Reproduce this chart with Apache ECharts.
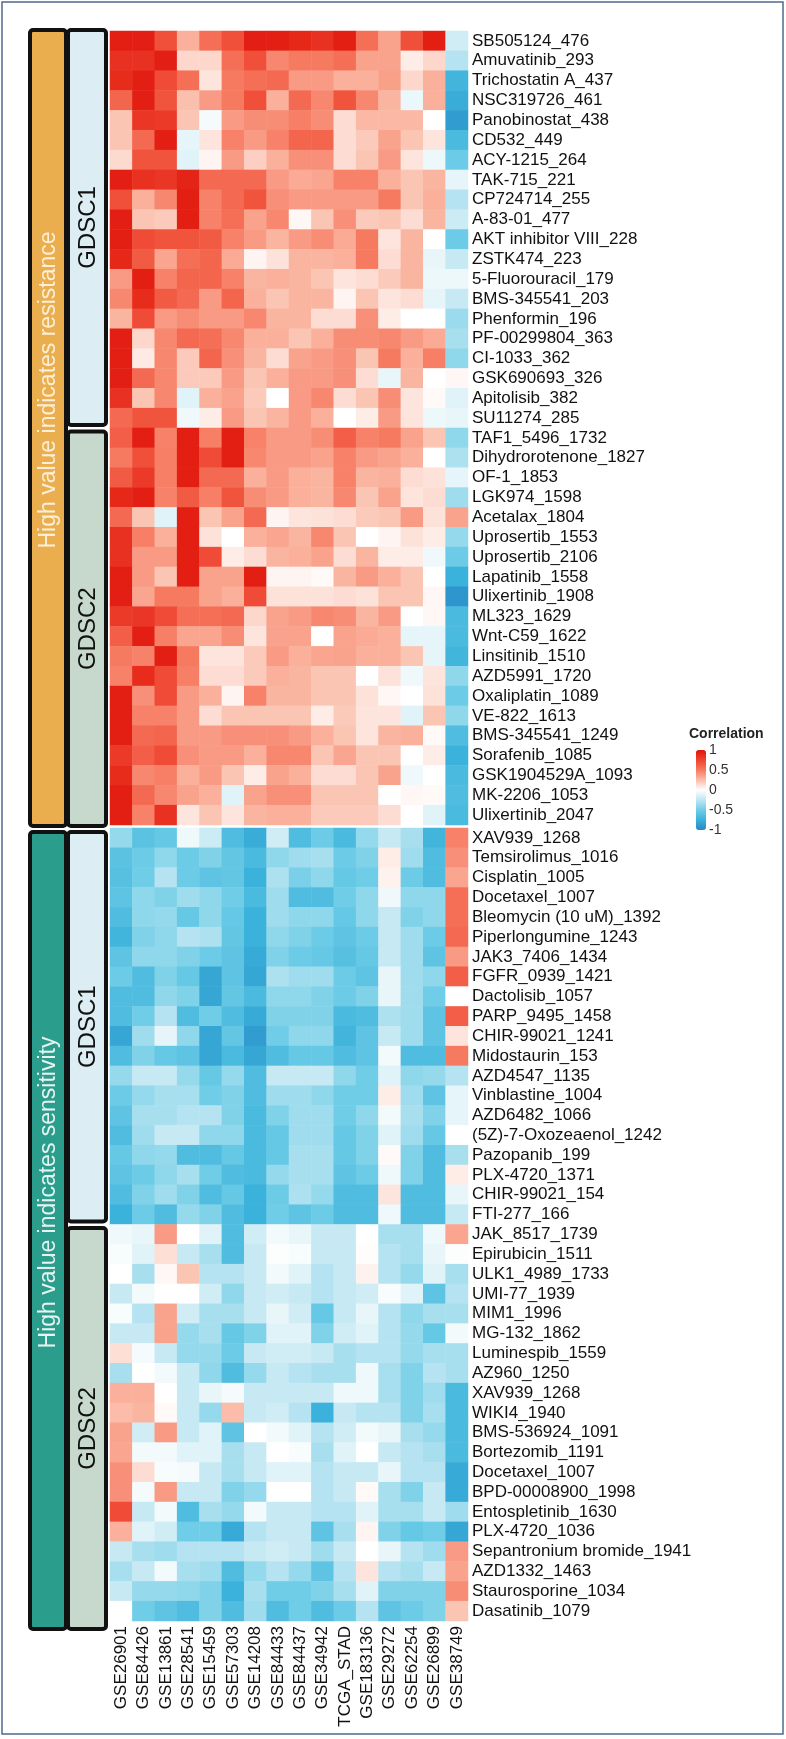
<!DOCTYPE html>
<html>
<head>
<meta charset="utf-8">
<script src="https://cdn.jsdelivr.net/npm/echarts@6.0.0/dist/echarts.min.js"></script>
<style>
  html, body { margin: 0; padding: 0; background: #fff; }
  #chart { width: 786px; height: 1739px; }
</style>
</head>
<body>
<div id="chart"></div>
<script>
// columns (datasets)
const datasets = ["GSE26901", "GSE84426", "GSE13861", "GSE28541", "GSE15459", "GSE57303", "GSE14208", "GSE84433",
  "GSE84437", "GSE34942", "TCGA_STAD", "GSE183136", "GSE29272", "GSE62254", "GSE26899", "GSE38749"];

// high value indicates resistance / GDSC1
const resGdsc1Drugs = ["SB505124_476", "Amuvatinib_293", "Trichostatin A_437", "NSC319726_461", "Panobinostat_438",
  "CD532_449", "ACY-1215_264", "TAK-715_221", "CP724714_255", "A-83-01_477", "AKT inhibitor VIII_228", "ZSTK474_223",
  "5-Fluorouracil_179", "BMS-345541_203", "Phenformin_196", "PF-00299804_363", "CI-1033_362", "GSK690693_326",
  "Apitolisib_382", "SU11274_285"];
const resGdsc1Values = [
  [0.95, 0.95, 0.7, 0.3, 0.55, 0.7, 0.95, 0.95, 0.9, 0.85, 0.95, 0.55, 0.35, 0.7, 0.95, -0.18],
  [0.85, 0.85, 0.95, 0.15, 0.15, 0.55, 0.7, 0.45, 0.5, 0.5, 0.55, 0.35, 0.35, 0.07, 0.15, -0.28],
  [0.88, 0.95, 0.72, 0.55, 0.1, 0.5, 0.55, 0.58, 0.38, 0.38, 0.3, 0.3, 0.36, 0.15, 0.3, -0.72],
  [0.6, 0.95, 0.68, 0.24, 0.38, 0.5, 0.7, 0.3, 0.58, 0.45, 0.68, 0.45, 0.28, -0.08, 0.3, -0.78],
  [0.22, 0.82, 0.8, 0.22, -0.04, 0.38, 0.43, 0.43, 0.48, 0.43, 0.13, 0.27, 0.27, 0.27, 0, -0.88],
  [0.22, 0.58, 0.95, -0.1, 0.1, 0.47, 0.38, 0.47, 0.6, 0.6, 0.13, 0.2, 0.35, 0.22, 0.1, -0.68],
  [0.14, 0.68, 0.68, -0.12, 0.04, 0.38, 0.18, 0.3, 0.42, 0.42, 0.13, 0.22, 0.38, 0.1, -0.07, -0.52],
  [0.95, 0.85, 0.82, 0.92, 0.58, 0.58, 0.58, 0.38, 0.32, 0.34, 0.47, 0.47, 0.3, 0.22, 0.28, -0.1],
  [0.7, 0.3, 0.45, 0.95, 0.47, 0.58, 0.68, 0.42, 0.38, 0.38, 0.38, 0.38, 0.5, 0.22, 0.3, -0.28],
  [0.95, 0.22, 0.2, 0.95, 0.47, 0.55, 0.35, 0.45, 0.03, 0.22, 0.42, 0.2, 0.22, 0.13, 0.28, -0.2],
  [0.95, 0.72, 0.68, 0.68, 0.65, 0.47, 0.38, 0.28, 0.38, 0.43, 0.32, 0.5, 0.1, 0.28, 0, -0.52],
  [0.9, 0.65, 0.34, 0.55, 0.6, 0.32, 0.04, 0.11, 0.28, 0.28, 0.3, 0.5, 0.13, 0.28, -0.09, -0.22],
  [0.38, 0.95, 0.47, 0.6, 0.6, 0.47, 0.28, 0.3, 0.28, 0.22, 0.1, 0.13, 0.2, 0.28, -0.07, -0.07],
  [0.45, 0.88, 0.65, 0.58, 0.38, 0.6, 0.3, 0.22, 0.28, 0.28, 0.04, 0.22, 0.1, 0.13, -0.1, -0.22],
  [0.28, 0.72, 0.38, 0.43, 0.38, 0.38, 0.45, 0.28, 0.28, 0.13, 0.13, 0.42, 0.07, 0, 0, -0.36],
  [0.95, 0.15, 0.45, 0.58, 0.55, 0.45, 0.3, 0.3, 0.22, 0.3, 0.43, 0.43, 0.45, 0.38, 0.32, -0.32],
  [0.95, 0.08, 0.45, 0.2, 0.6, 0.42, 0.28, 0.13, 0.35, 0.38, 0.42, 0.22, 0.5, 0.3, 0.48, -0.4],
  [0.95, 0.58, 0.45, 0.2, 0.2, 0.38, 0.22, 0.3, 0.38, 0.38, 0.42, 0.13, -0.09, 0.28, 0, 0.03],
  [0.85, 0.22, 0.45, -0.12, 0.3, 0.35, 0.2, 0, 0.38, 0.45, 0.13, 0.22, 0.43, 0.1, 0.02, -0.12],
  [0.58, 0.68, 0.68, -0.06, 0.07, 0.38, 0.22, 0.28, 0.38, 0.3, 0, 0.07, 0.38, 0.1, -0.07, -0.09]
];

// high value indicates resistance / GDSC2
const resGdsc2Drugs = ["TAF1_5496_1732", "Dihydrorotenone_1827", "OF-1_1853", "LGK974_1598", "Acetalax_1804",
  "Uprosertib_1553", "Uprosertib_2106", "Lapatinib_1558", "Ulixertinib_1908", "ML323_1629", "Wnt-C59_1622",
  "Linsitinib_1510", "AZD5991_1720", "Oxaliplatin_1089", "VE-822_1613", "BMS-345541_1249", "Sorafenib_1085",
  "GSK1904529A_1093", "MK-2206_1053", "Ulixertinib_2047"];
const resGdsc2Values = [
  [0.63, 0.95, 0.47, 0.95, 0.48, 0.95, 0.47, 0.38, 0.38, 0.43, 0.63, 0.47, 0.5, 0.35, 0.22, -0.4],
  [0.5, 0.7, 0.48, 0.95, 0.72, 0.95, 0.45, 0.38, 0.38, 0.35, 0.47, 0.38, 0.35, 0.3, 0, -0.3],
  [0.65, 0.8, 0.48, 0.95, 0.58, 0.58, 0.3, 0.38, 0.3, 0.28, 0.47, 0.28, 0.3, 0.13, 0.11, -0.1],
  [0.9, 0.95, 0.47, 0.65, 0.48, 0.68, 0.43, 0.38, 0.3, 0.28, 0.45, 0.22, 0.35, 0.1, 0.13, -0.35],
  [0.58, 0.22, -0.12, 0.95, 0.22, 0.35, 0.58, 0.04, 0.1, 0.11, 0.13, 0.2, 0.22, 0.38, 0.11, 0.35],
  [0.85, 0.48, 0.3, 0.95, 0.11, 0, 0.3, 0.34, 0.28, 0.45, 0.22, 0, 0.04, 0.11, 0.07, -0.38],
  [0.85, 0.38, 0.38, 0.95, 0.72, 0.07, 0.13, 0.28, 0.3, 0.35, 0.13, 0.28, 0.07, 0.07, -0.06, -0.52],
  [0.95, 0.38, 0.22, 0.95, 0.35, 0.35, 0.95, 0.04, 0.04, 0.02, 0.28, 0.38, 0.3, 0.22, 0, -0.75],
  [0.95, 0.34, 0.5, 0.5, 0.35, 0.3, 0.72, 0.11, 0.11, 0.11, 0.13, 0.11, 0.22, 0.22, 0.03, -0.92],
  [0.8, 0.82, 0.72, 0.55, 0.55, 0.58, 0.15, 0.35, 0.38, 0.45, 0.43, 0.28, 0.38, 0, 0.03, -0.68],
  [0.63, 0.95, 0.48, 0.34, 0.34, 0.43, 0.1, 0.35, 0.35, 0, 0.35, 0.32, 0.3, -0.1, -0.1, -0.68],
  [0.5, 0.47, 0.95, 0.5, 0.1, 0.1, 0.2, 0.38, 0.3, 0.34, 0.35, 0.3, 0.3, 0.22, -0.1, -0.72],
  [0.47, 0.88, 0.72, 0.48, 0.13, 0.13, 0.2, 0.3, 0.28, 0.22, 0.22, 0, 0.11, -0.06, 0.1, -0.4],
  [0.95, 0.42, 0.72, 0.38, 0.3, 0.04, 0.47, 0.28, 0.28, 0.22, 0.22, 0.11, 0.03, 0, 0.11, -0.52],
  [0.95, 0.47, 0.47, 0.38, 0.13, 0.22, 0.22, 0.22, 0.22, 0.07, 0.2, 0.1, 0.1, -0.12, 0.22, -0.4],
  [0.95, 0.58, 0.6, 0.38, 0.38, 0.42, 0.42, 0.42, 0.38, 0.3, 0.22, 0.1, 0.28, 0.3, 0.02, -0.65],
  [0.8, 0.63, 0.72, 0.42, 0.38, 0.38, 0.3, 0.45, 0.45, 0.22, 0.34, 0.22, 0.22, 0, 0.07, -0.75],
  [0.88, 0.45, 0.48, 0.3, 0.38, 0.22, 0.07, 0.35, 0.3, 0.13, 0.13, 0.22, 0.35, -0.06, 0, -0.68],
  [0.95, 0.58, 0.45, 0.35, 0.3, -0.12, 0.35, 0.42, 0.42, 0.22, 0.22, 0.22, 0, 0.03, 0.02, -0.65],
  [0.95, 0.47, 0.85, 0.1, 0.22, 0.1, 0.28, 0.3, 0.3, 0.2, 0.2, 0.2, 0.13, 0, -0.12, -0.68]
];

// high value indicates sensitivity / GDSC1
const senGdsc1Drugs = ["XAV939_1268", "Temsirolimus_1016", "Cisplatin_1005", "Docetaxel_1007", "Bleomycin (10 uM)_1392",
  "Piperlongumine_1243", "JAK3_7406_1434", "FGFR_0939_1421", "Dactolisib_1057", "PARP_9495_1458", "CHIR-99021_1241",
  "Midostaurin_153", "AZD4547_1135", "Vinblastine_1004", "AZD6482_1066", "(5Z)-7-Oxozeaenol_1242", "Pazopanib_199",
  "PLX-4720_1371", "CHIR-99021_154", "FTI-277_166"];
const senGdsc1Values = [
  [-0.38, -0.6, -0.55, -0.06, -0.2, -0.65, -0.78, -0.18, -0.65, -0.52, -0.68, -0.38, -0.22, -0.32, -0.72, 0.47],
  [-0.6, -0.52, -0.4, -0.52, -0.45, -0.56, -0.68, -0.4, -0.35, -0.32, -0.52, -0.45, 0.07, -0.35, -0.65, 0.42],
  [-0.62, -0.5, -0.28, -0.52, -0.58, -0.56, -0.75, -0.3, -0.47, -0.4, -0.55, -0.5, 0.05, -0.52, -0.65, 0.34],
  [-0.58, -0.4, -0.45, -0.35, -0.4, -0.5, -0.68, -0.35, -0.65, -0.65, -0.5, -0.4, -0.06, -0.4, -0.4, 0.55],
  [-0.65, -0.4, -0.38, -0.55, -0.4, -0.55, -0.75, -0.35, -0.4, -0.4, -0.55, -0.4, -0.22, -0.45, -0.4, 0.55],
  [-0.72, -0.45, -0.4, -0.28, -0.3, -0.56, -0.75, -0.4, -0.45, -0.52, -0.58, -0.52, -0.22, -0.35, -0.52, 0.58],
  [-0.58, -0.4, -0.4, -0.45, -0.52, -0.58, -0.8, -0.45, -0.52, -0.55, -0.62, -0.55, -0.22, -0.35, -0.58, 0.38],
  [-0.52, -0.65, -0.45, -0.55, -0.82, -0.58, -0.82, -0.3, -0.35, -0.35, -0.52, -0.58, -0.09, -0.35, -0.4, 0.63],
  [-0.65, -0.65, -0.4, -0.45, -0.82, -0.56, -0.68, -0.4, -0.4, -0.45, -0.52, -0.45, -0.09, -0.35, -0.5, 0],
  [-0.65, -0.5, -0.28, -0.65, -0.5, -0.65, -0.8, -0.45, -0.45, -0.45, -0.68, -0.65, -0.3, -0.35, -0.58, 0.63],
  [-0.82, -0.35, -0.1, -0.4, -0.82, -0.56, -0.88, -0.5, -0.4, -0.4, -0.72, -0.58, -0.22, -0.35, -0.58, 0.1],
  [-0.65, -0.45, -0.55, -0.58, -0.82, -0.68, -0.82, -0.65, -0.55, -0.55, -0.65, -0.58, -0.05, -0.65, -0.65, 0.5],
  [-0.38, -0.22, -0.22, -0.38, -0.55, -0.38, -0.65, -0.22, -0.22, -0.22, -0.4, -0.5, -0.12, -0.4, -0.38, -0.28],
  [-0.52, -0.38, -0.32, -0.32, -0.5, -0.45, -0.65, -0.35, -0.35, -0.4, -0.5, -0.5, 0.07, -0.35, -0.58, -0.1],
  [-0.58, -0.32, -0.32, -0.28, -0.28, -0.45, -0.68, -0.45, -0.35, -0.35, -0.5, -0.4, -0.05, -0.32, -0.45, -0.1],
  [-0.65, -0.35, -0.22, -0.22, -0.4, -0.4, -0.68, -0.55, -0.35, -0.35, -0.55, -0.45, -0.12, -0.35, -0.55, 0],
  [-0.55, -0.4, -0.38, -0.65, -0.65, -0.55, -0.68, -0.55, -0.32, -0.32, -0.55, -0.45, 0.02, -0.45, -0.65, -0.32],
  [-0.58, -0.52, -0.4, -0.32, -0.5, -0.65, -0.68, -0.38, -0.32, -0.32, -0.58, -0.52, -0.06, -0.45, -0.65, 0.07],
  [-0.65, -0.45, -0.35, -0.45, -0.65, -0.55, -0.75, -0.52, -0.3, -0.38, -0.65, -0.65, 0.1, -0.65, -0.65, -0.09],
  [-0.75, -0.52, -0.65, -0.38, -0.45, -0.65, -0.75, -0.5, -0.58, -0.52, -0.65, -0.65, -0.06, -0.65, -0.65, -0.22]
];

// high value indicates sensitivity / GDSC2
const senGdsc2Drugs = ["JAK_8517_1739", "Epirubicin_1511", "ULK1_4989_1733", "UMI-77_1939", "MIM1_1996", "MG-132_1862",
  "Luminespib_1559", "AZ960_1250", "XAV939_1268", "WIKI4_1940", "BMS-536924_1091", "Bortezomib_1191", "Docetaxel_1007",
  "BPD-00008900_1998", "Entospletinib_1630", "PLX-4720_1036", "Sepantronium bromide_1941", "AZD1332_1463",
  "Staurosporine_1034", "Dasatinib_1079"];
const senGdsc2Values = [
  [-0.06, -0.09, 0.38, 0, -0.12, -0.65, -0.18, -0.05, -0.09, -0.22, -0.22, 0, -0.32, -0.32, -0.06, 0.34],
  [-0.03, -0.12, 0.12, -0.22, -0.32, -0.65, -0.22, -0.01, -0.03, -0.22, -0.22, 0.01, -0.28, -0.32, -0.09, -0.01],
  [0, -0.32, 0.03, 0.22, -0.28, -0.28, -0.22, -0.05, -0.12, -0.28, -0.22, 0.05, -0.28, -0.38, -0.12, -0.32],
  [-0.22, -0.05, 0, 0, -0.18, -0.4, -0.22, -0.18, -0.22, -0.28, -0.22, -0.18, -0.03, -0.12, -0.58, -0.28],
  [-0.03, -0.28, 0.35, -0.18, -0.32, -0.32, -0.22, -0.09, -0.18, -0.55, -0.22, -0.09, -0.28, -0.4, -0.32, -0.32],
  [-0.22, -0.22, 0.35, -0.38, -0.32, -0.55, -0.45, -0.12, -0.12, -0.45, -0.18, -0.12, -0.28, -0.38, -0.55, -0.05],
  [0.12, -0.04, -0.22, -0.38, -0.38, -0.52, -0.22, -0.18, -0.18, -0.22, -0.32, -0.28, -0.28, -0.38, -0.32, -0.32],
  [-0.32, 0, -0.05, -0.22, -0.4, -0.65, -0.38, -0.22, -0.28, -0.32, -0.32, -0.06, -0.32, -0.45, -0.28, -0.32],
  [0.3, 0.3, 0, -0.22, -0.09, -0.04, -0.22, -0.22, -0.22, -0.22, -0.06, -0.06, -0.32, -0.45, -0.35, -0.68],
  [0.25, 0.28, 0.02, -0.22, -0.38, 0.25, -0.22, -0.18, -0.28, -0.75, -0.22, -0.28, -0.28, -0.45, -0.32, -0.68],
  [0.35, -0.18, 0.38, -0.22, -0.12, -0.58, 0, -0.05, -0.12, -0.28, -0.18, -0.05, -0.09, -0.32, -0.38, -0.68],
  [0.34, -0.05, -0.05, -0.12, -0.12, -0.32, -0.22, 0, -0.03, -0.32, -0.12, 0, -0.22, -0.28, -0.32, -0.68],
  [0.42, 0.13, -0.03, -0.04, -0.22, -0.32, -0.22, -0.12, -0.12, -0.28, -0.22, -0.22, -0.09, -0.28, -0.28, -0.8],
  [0.42, -0.04, 0.38, -0.22, -0.22, -0.45, -0.38, 0, 0, -0.28, -0.22, 0.02, -0.32, -0.45, -0.22, -0.8],
  [0.72, -0.22, -0.05, -0.65, -0.32, -0.38, -0.05, -0.22, -0.22, -0.28, -0.28, -0.12, -0.32, -0.32, -0.22, -0.35],
  [0.3, -0.12, -0.18, -0.5, -0.5, -0.8, -0.28, -0.22, -0.22, -0.58, -0.32, 0.04, -0.45, -0.55, -0.5, -0.82],
  [-0.22, -0.32, -0.35, -0.28, -0.28, -0.28, -0.22, -0.18, -0.22, -0.35, -0.22, 0, -0.09, -0.28, -0.35, 0.38],
  [-0.32, -0.22, -0.05, -0.32, -0.35, -0.65, -0.38, -0.28, -0.38, -0.58, -0.28, 0.1, -0.28, -0.32, -0.22, 0.35],
  [-0.22, -0.38, -0.38, -0.4, -0.45, -0.75, -0.32, -0.5, -0.5, -0.45, -0.32, -0.12, -0.45, -0.45, -0.45, 0.43],
  [0, -0.5, -0.58, -0.65, -0.45, -0.65, -0.35, -0.65, -0.5, -0.65, -0.52, -0.28, -0.58, -0.52, -0.45, 0.22]
];

const groupLabels = ["High value indicates resistance", "High value indicates sensitivity"];
const sourceLabels = ["GDSC1", "GDSC2"];
const legendTicks = [-1, -0.5, 0, 0.5, 1];

const FONT = "'Liberation Sans', Arial, Helvetica, sans-serif";
const palette = ["#2888C6", "#3BB2DB", "#70CDE7", "#BEE6F2", "#FFFFFF", "#FBBDAA", "#F67A60", "#EE4530", "#E0140A"];
const groupColors = ["#EBAE4E", "#2A9D8C"];
const groupTextColors = ["#FCEFD8", "#E6F4F1"];
const sourceColors = ["#DCEEF3", "#C6D9CC"];

const resDrugs = resGdsc1Drugs.concat(resGdsc2Drugs);
const senDrugs = senGdsc1Drugs.concat(senGdsc2Drugs);
const resValues = resGdsc1Values.concat(resGdsc2Values);
const senValues = senGdsc1Values.concat(senGdsc2Values);

function cells(values) {
  const out = [];
  values.forEach(function (row, r) {
    row.forEach(function (v, c) { out.push([c, r, v]); });
  });
  return out;
}

// annotation bars on the left of each half: [x, firstRow, lastRow, level, labelIndex]
function annotationSeries(gi, groupIdx, nFirst, nTotal, padTop, padBottom) {
  const data = [
    [0, 0, nTotal - 1, 0, groupIdx],
    [0, 0, nFirst - 1, 1, 0],
    [0, nFirst, nTotal - 1, 1, 1]
  ];
  return {
    type: "custom",
    xAxisIndex: gi,
    yAxisIndex: gi,
    silent: true,
    clip: false,
    z: 5,
    data: data,
    renderItem: function (params, api) {
      const cs = params.coordSys;
      const from = api.value(1), to = api.value(2), level = api.value(3), li = api.value(4);
      const h = api.size([0, 1])[1];
      let top = api.coord([0, from])[1] - h / 2;
      let bottom = api.coord([0, to])[1] + h / 2;
      top += from === 0 ? padTop : 3.5;
      bottom += to === nTotal - 1 ? padBottom : -3;
      const x0 = level === 0 ? cs.x - 80 : cs.x - 42;
      const w = level === 0 ? 36 : 38;
      const fill = level === 0 ? groupColors[li] : sourceColors[li];
      const text = level === 0 ? groupLabels[li] : sourceLabels[li];
      const cy = (top + bottom) / 2 + (level === 0 ? -38 : 0);
      return {
        type: "group",
        children: [
          {
            type: "rect",
            shape: { x: x0, y: top, width: w, height: bottom - top, r: 3 },
            style: { fill: fill, stroke: "#111", lineWidth: 4 }
          },
          {
            type: "text",
            x: x0 + w / 2 + 1,
            y: cy,
            rotation: Math.PI / 2,
            style: {
              text: text,
              fill: level === 0 ? groupTextColors[li] : "#111",
              font: (level === 0 ? "23px " : "24px ") + FONT,
              align: "center",
              verticalAlign: "middle"
            }
          }
        ]
      };
    }
  };
}

const chart = echarts.init(document.getElementById("chart"));

const catYAxis = function (gi, names) {
  return {
    type: "category",
    gridIndex: gi,
    data: names,
    inverse: true,
    position: "right",
    axisLine: { show: false },
    axisTick: { show: false },
    splitLine: { show: false },
    axisLabel: { interval: 0, margin: 4, fontSize: 17, color: "#111", fontFamily: FONT }
  };
};

const option = {
  animation: false,
  backgroundColor: "#fff",
  title: {
    text: "Correlation",
    left: 689,
    top: 727,
    padding: 0,
    textStyle: { fontSize: 14, fontWeight: "bold", color: "#222", fontFamily: FONT }
  },
  grid: [
    { left: 110, top: 31, width: 358, height: 794 },
    { left: 110, top: 828, width: 358, height: 793 },
    { left: 706, top: 750, width: 1, height: 80 }
  ],
  xAxis: [
    { type: "category", gridIndex: 0, data: datasets, show: false },
    {
      type: "category", gridIndex: 1, data: datasets,
      axisLine: { show: false }, axisTick: { show: false }, splitLine: { show: false },
      axisLabel: { interval: 0, rotate: 90, margin: 5, fontSize: 17, color: "#111", fontFamily: FONT }
    },
    { type: "value", gridIndex: 2, show: false }
  ],
  yAxis: [
    catYAxis(0, resDrugs),
    catYAxis(1, senDrugs),
    {
      type: "value", gridIndex: 2, position: "right",
      min: legendTicks[0], max: legendTicks[legendTicks.length - 1], interval: 0.5,
      axisLine: { show: false }, axisTick: { show: false }, splitLine: { show: false },
      axisLabel: { margin: 2, fontSize: 14, color: "#333", fontFamily: FONT, customValues: legendTicks }
    }
  ],
  visualMap: {
    type: "continuous",
    min: -1,
    max: 1,
    seriesIndex: [0, 1],
    calculable: false,
    left: 696,
    top: 750,
    padding: 0,
    itemWidth: 10,
    itemHeight: 80,
    inRange: { color: palette }
  },
  graphic: [
    {
      type: "rect",
      silent: true,
      shape: { x: 2, y: 2, width: 781, height: 1732 },
      style: { fill: "none", stroke: "#4d6b8c", lineWidth: 1.5 }
    }
  ],
  series: [
    { type: "heatmap", xAxisIndex: 0, yAxisIndex: 0, data: cells(resValues), itemStyle: { borderWidth: 0 } },
    { type: "heatmap", xAxisIndex: 1, yAxisIndex: 1, data: cells(senValues), itemStyle: { borderWidth: 0 } },
    annotationSeries(0, 0, resGdsc1Drugs.length, resDrugs.length, -1, 1),
    annotationSeries(1, 1, senGdsc1Drugs.length, senDrugs.length, 4, 8),
    { type: "scatter", xAxisIndex: 2, yAxisIndex: 2, data: [] }
  ]
};

chart.setOption(option);
</script>
</body>
</html>
